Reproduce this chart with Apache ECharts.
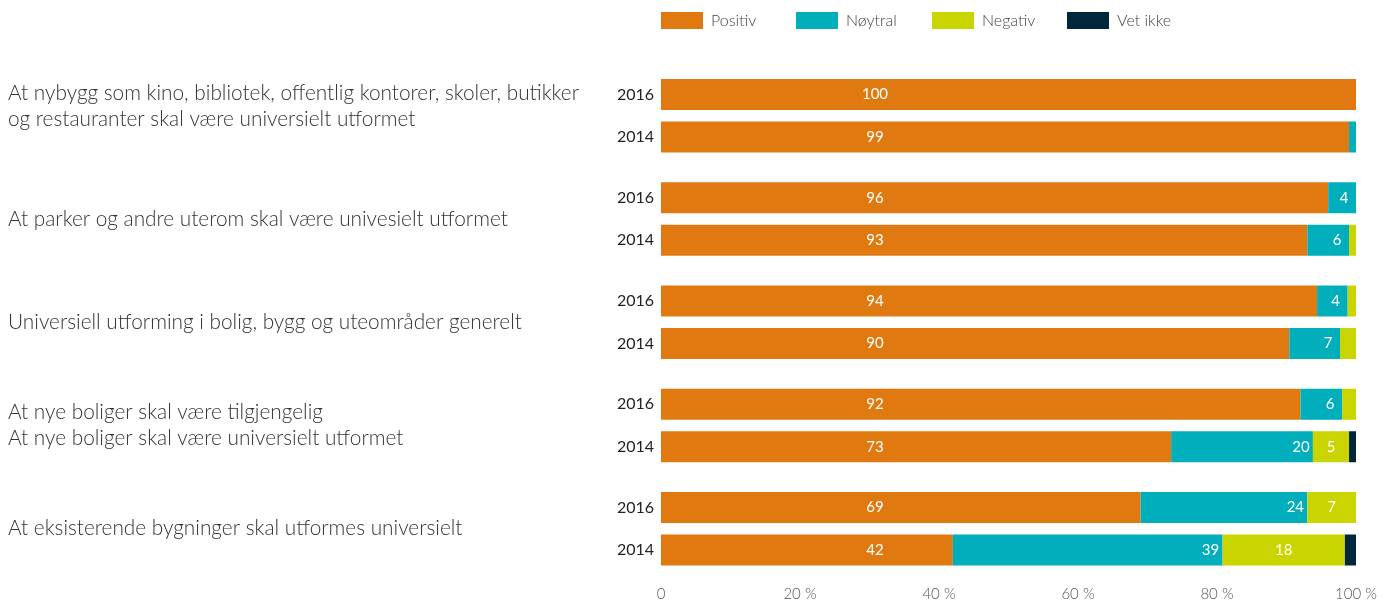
<!DOCTYPE html>
<html><head><meta charset="utf-8">
<script src="https://cdn.jsdelivr.net/npm/echarts@6/dist/echarts.min.js"></script>
<style>html,body{margin:0;padding:0;background:#fff}#c{width:1393px;height:605px}</style>
</head><body><div id="c"></div>
<script>
const groups = [
  'At nybygg som kino, bibliotek, offentlig kontorer, skoler, butikker\nog restauranter skal være universielt utformet',
  'At parker og andre uterom skal være univesielt utformet',
  'Universiell utforming i bolig, bygg og uteområder generelt',
  'At nye boliger skal være tilgjengelig\nAt nye boliger skal være universielt utformet',
  'At eksisterende bygninger skal utformes universielt'
];
const years = ['2016', '2014'];
const seriesNames = ['Positiv', 'Nøytral', 'Negativ', 'Vet ikke'];
const positiv = [100, 99, 96, 93, 94.4, 90.4, 92, 73.4, 69, 42];
const noytral = [0, 1, 4, 6, 4.4, 7.3, 6, 20.4, 24, 38.8];
const negativ = [0, 0, 0, 1, 1.2, 2.3, 2, 5.2, 7, 17.6];
const vetIkke = [0, 0, 0, 0, 0, 0, 0, 1.0, 0, 1.6];
const xTicks = [0, 20, 40, 60, 80, 100];

const colors = ['#E07A10', '#00AEBC', '#C9D400', '#00273B'];
const values = [positiv, noytral, negativ, vetIkke];
const FONT = 'Lato, "Open Sans", sans-serif';

const grids = [], xAxes = [], yAxes = [], series = [], titles = [];
const pitch = 103.25, top0 = 73.25, band = 85;
groups.forEach((g, gi) => {
  const top = top0 + pitch * gi;
  grids.push({left: 661, right: 37, top: top, height: band});
  const last = gi === groups.length - 1;
  xAxes.push({
    type: 'value', gridIndex: gi, min: 0, max: 100, interval: 20,
    axisLine: {show: false}, axisTick: {show: false}, splitLine: {show: false},
    axisLabel: {show: last, margin: 15, color: '#555', fontSize: 15, fontFamily: FONT, fontWeight: 300,
      formatter: v => xTicks.includes(v) ? (v === 0 ? '0' : v + ' %') : ''}
  });
  yAxes.push({
    type: 'category', gridIndex: gi, data: years, inverse: true,
    axisLine: {show: false}, axisTick: {show: false},
    axisLabel: {margin: 7, color: '#222', fontSize: 16, fontFamily: FONT}
  });
  const nLines = g.split('\n').length;
  titles.push({
    text: g, left: 8, top: top + band / 2 - nLines * 13 - (gi === 0 ? 9 : 0), padding: 0,
    textStyle: {fontSize: 20.8, fontWeight: 300, color: '#333', fontFamily: FONT, lineHeight: 26}
  });
  values.forEach((arr, si) => {
    let pos;
    if (si === 0) pos = [214, '50%'];
    else if (si === 1) pos = 'insideRight';
    else pos = 'inside';
    series.push({
      name: seriesNames[si], type: 'bar', stack: 'g' + gi, xAxisIndex: gi, yAxisIndex: gi,
      barWidth: 31, itemStyle: {color: colors[si]},
      data: [arr[gi * 2], arr[gi * 2 + 1]],
      label: {
        show: true, position: pos, distance: 12, align: 'center', verticalAlign: 'middle',
        color: '#fff', fontSize: 15, fontFamily: FONT,
        formatter: p => p.value >= 3 ? String(Math.round(p.value)) : ''
      },
      emphasis: {disabled: true}
    });
  });
});

const legendLefts = [661, 796, 932, 1067];
const legends = seriesNames.map((n, i) => ({
  data: [n], left: legendLefts[i], top: 12, padding: 0, itemWidth: 42, itemHeight: 17,
  icon: 'rect', selectedMode: false,
  textStyle: {padding: [0, 0, 0, 3], fontSize: 16, color: '#444', fontFamily: FONT, fontWeight: 300}
}));

const chart = echarts.init(document.getElementById('c'), null, {renderer: 'canvas'});
chart.setOption({
  animation: false,
  color: colors,
  title: titles,
  legend: legends,
  grid: grids, xAxis: xAxes, yAxis: yAxes, series: series
});
</script></body></html>
